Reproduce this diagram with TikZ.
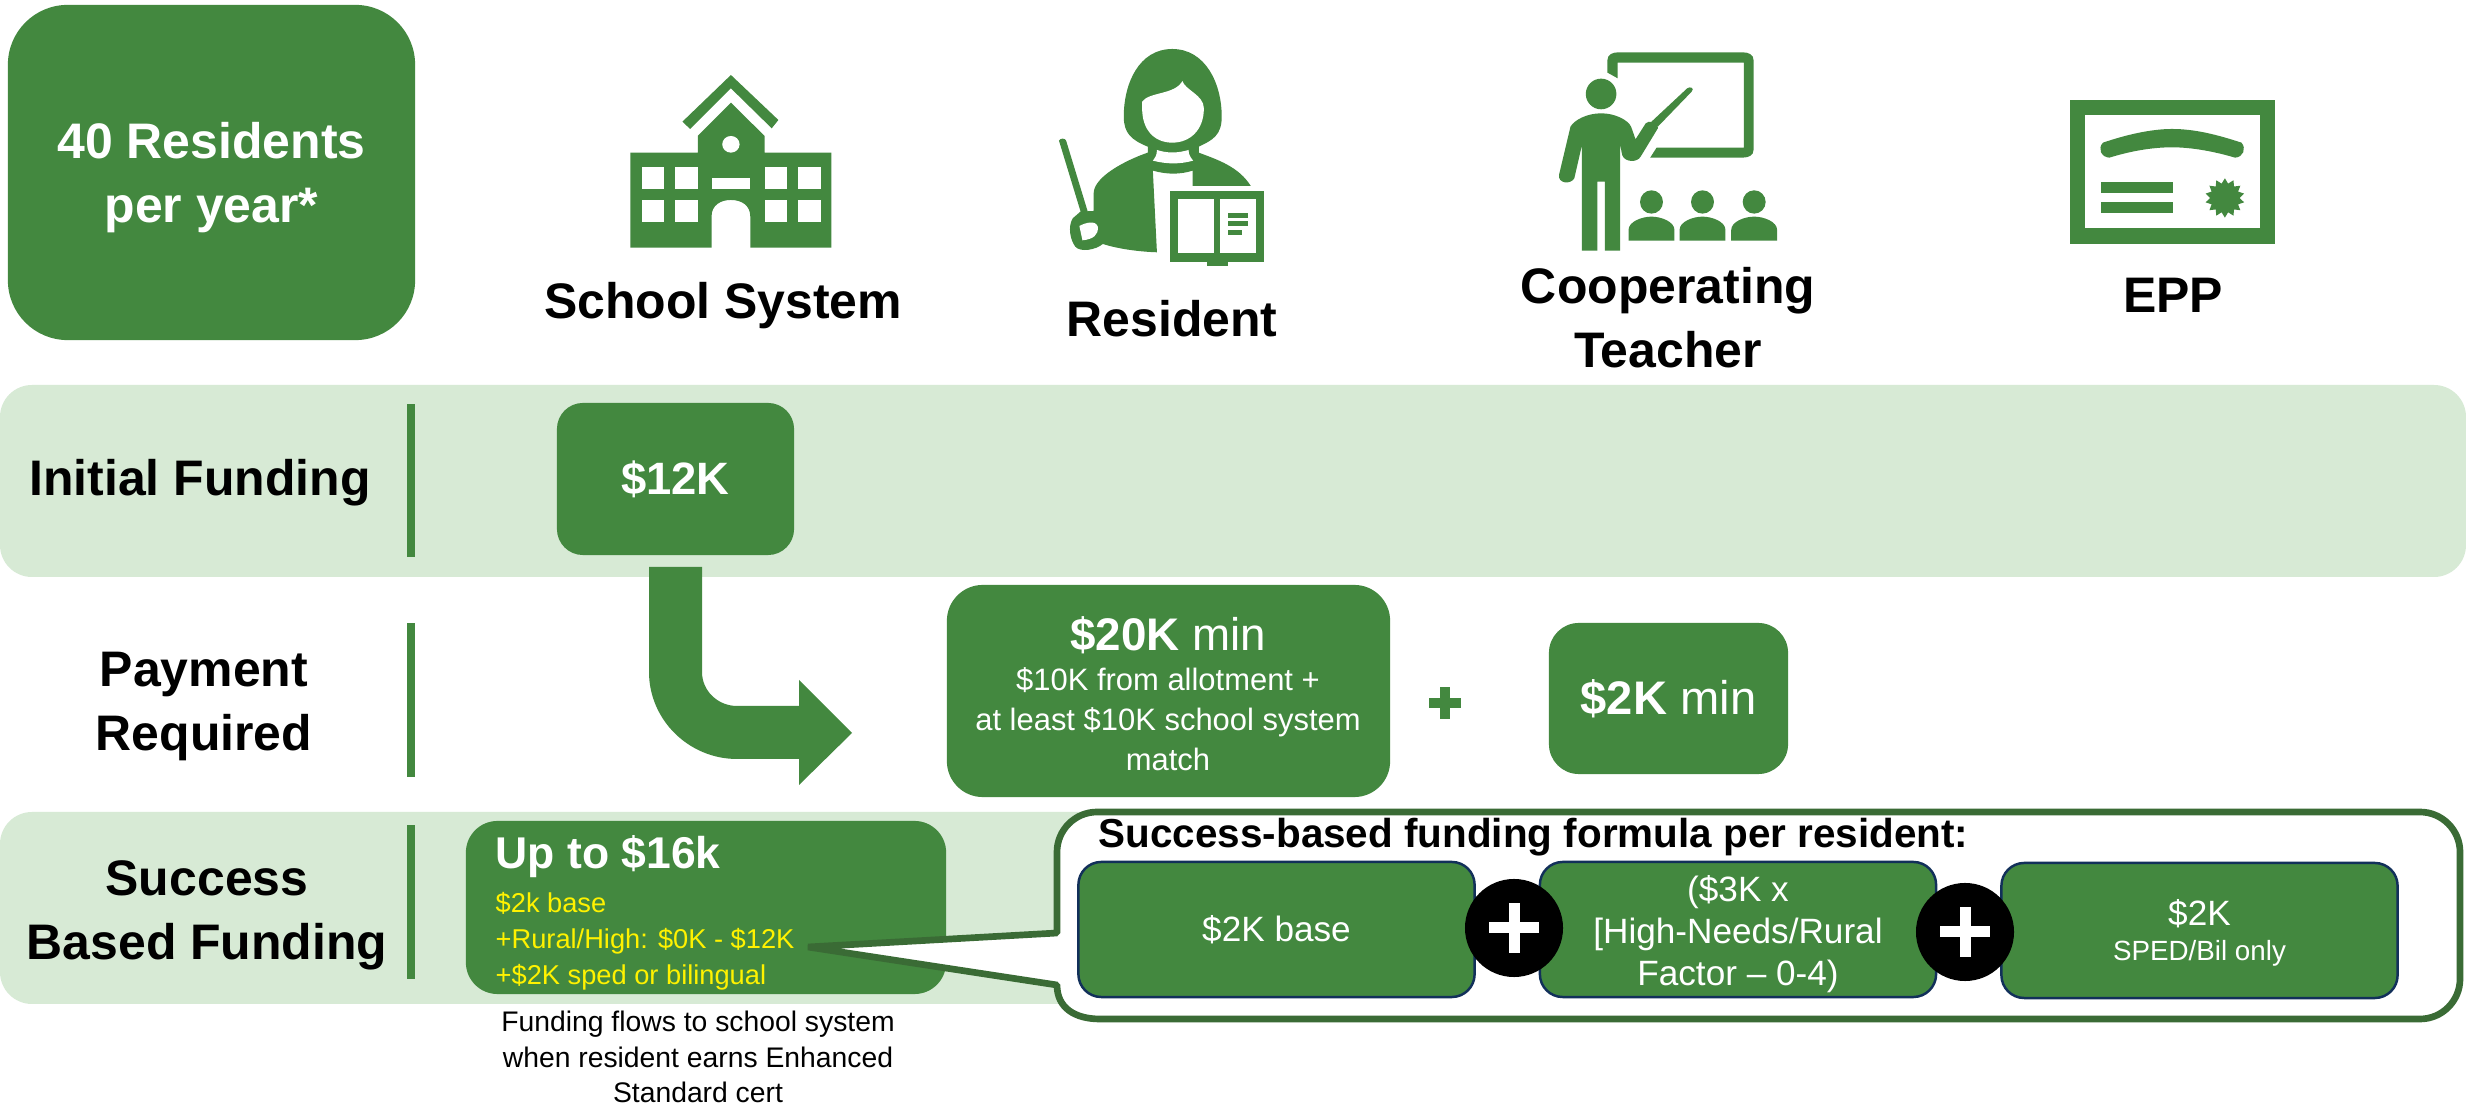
\documentclass[tikz,border=0pt]{standalone}
\usepackage{fontspec}
\setmainfont{Liberation Sans}
\definecolor{gr}{HTML}{43883F}
\definecolor{band}{HTML}{D7EAD5}
\definecolor{dk}{HTML}{3A6B35}
\definecolor{navy}{HTML}{12305A}
\newcommand{\fs}[2]{\fontsize{#1}{#2}\selectfont}
\tikzset{
 bandbox/.style={fill=band,draw=none,rounded corners=9.1pt},
 gbox/.style={fill=gr,draw=none,text=white,align=center,inner sep=0pt},
 nbox/.style={fill=gr,draw=navy,line width=0.7pt,rounded corners=6.5pt,inner sep=0pt,minimum width=3.96cm,minimum height=1.35cm},
 ttl/.style={font=\bfseries\fs{14.2}{18.2},align=center,text=black,inner sep=0pt},
 wt/.style={text=white,align=center,inner sep=0pt},
 bar/.style={fill=gr,draw=none},
 ic/.style={fill=gr,draw=none},
 wh/.style={fill=white,draw=none},
 plusdot/.style={circle,fill=black,draw=none,minimum size=0.98cm,inner sep=0pt},
}
\begin{document}
\begin{tikzpicture}[x=0.01cm,y=-0.01cm,line join=miter]
\useasboundingbox (0,0) rectangle (2466,1107);
\fill[white] (0,0) rectangle (2466,1107);
% bands
\fill[bandbox] (0,385) rectangle (2466,577);
\fill[bandbox] (0,812) rectangle (1200,1004);
% top-left box
\node[gbox,rounded corners=17pt,minimum width=4.07cm,minimum height=3.35cm] (forty) at (211.5,172.5) {};
\node[wt,font=\bfseries\fs{14.2}{18.2}] (fortyt) at (211.5,178) {40 Residents\\per year*};
% column titles
\node[ttl] (t1) at (723,306) {School System};
\node[ttl] (t2) at (1172,319) {Resident};
\node[ttl] (t3) at (1668,318) {Cooperating\\Teacher};
\node[ttl] (t4) at (2173,295) {EPP};
% School icon
\begin{scope}[shift={(560,20)},xscale=0.5102,yscale=0.3333]
\fill[ic] (335,165)--(428,300)--(415,325)--(335,205)--(255,327)--(240,305)--cycle;
\fill[ic] (138,398)--(270,398)--(270,348)--(335,248)--(401,348)--(401,398)--(532,398)--(532,683)--(373,683)--(373,590) .. controls (373,555) and (355,540) .. (335,540) .. controls (315,540) and (297,555) .. (297,590) --(297,683)--(138,683)--cycle;
\foreach \xa/\xb in {160/204,225/270,401/445,466/511}{
 \fill[wh] (\xa,440) rectangle (\xb,507);
 \fill[wh] (\xa,541) rectangle (\xb,607);}
\fill[wh] (297,473) rectangle (373,507);
\fill[wh] (335,373) ellipse [x radius=17,y radius=25];
\end{scope}
% Resident icon
\begin{scope}[shift={(560,20)},xscale=0.5102,yscale=0.3333]
\fill[ic] (1200,87) .. controls (1265,87) and (1297,190) .. (1297,290) .. controls (1297,345) and (1280,360) .. (1252,380) --(1252,398) .. controls (1290,420) and (1330,440) .. (1354,498) --(1240,498)--(1240,452) .. controls (1215,464) and (1190,464) .. (1162,452) --(1170,697) .. controls (1130,695) and (1090,685) .. (1064,672) .. controls (1050,690) and (1020,698) .. (1010,680) .. controls (1000,660) and (995,620) .. (1005,595) --(1020,575)--(1046,573)--(1046,520) .. controls (1046,470) and (1110,420) .. (1152,398) --(1152,380) .. controls (1120,360) and (1105,340) .. (1105,290) .. controls (1105,190) and (1135,87) .. (1200,87)--cycle;
\fill[wh] (1141,245) .. controls (1155,215) and (1205,225) .. (1220,183) .. controls (1225,210) and (1262,225) .. (1262,265) .. controls (1262,330) and (1235,368) .. (1200,368) .. controls (1165,368) and (1141,330) .. (1141,265)--cycle;
\fill[wh] (1170,390) .. controls (1190,400) and (1210,400) .. (1232,390) .. controls (1232,405) and (1236,412) .. (1241,422) .. controls (1215,433) and (1190,433) .. (1162,422) .. controls (1167,412) and (1170,405) .. (1170,390)--cycle;
\fill[ic] (978,362) .. controls (980,354) and (990,354) .. (992,362)--(1035,578)--(1021,578)--cycle;
\fill[wh] (1018,618) .. controls (1030,608) and (1050,600) .. (1054,620) .. controls (1056,645) and (1045,658) .. (1024,661)--cycle;
\fill[ic] (1268,725) rectangle (1309,737);
\fill[wh] (1190,506) rectangle (1386,514);
\fill[ic] (1196,514) rectangle (1380,725);
\fill[wh] (1212,538) rectangle (1282,700);
\fill[wh] (1294,538) rectangle (1364,700);
\fill[ic] (1309,579) rectangle (1348,594);
\fill[ic] (1309,603) rectangle (1348,618);
\fill[ic] (1309,630) rectangle (1337,645);
\end{scope}
% Teacher icon
\begin{scope}[shift={(1360,20)},xscale=0.6378,yscale=0.3333]
\fill[ic] (388,158)--(388,120) .. controls (388,105) and (395,97) .. (405,97)--(600,97) .. controls (610,97) and (617,105) .. (617,120)--(617,390) .. controls (617,405) and (610,413) .. (600,413)--(455,413)--(465,383)--(602,383)--(602,128)--(404,128)--(404,175)--cycle;
\fill[ic] (378,222) ellipse [x radius=24,y radius=46];
\fill[ic] (378,280) .. controls (400,280) and (420,300) .. (425,320)--(432,358)--(448,310) .. controls (452,300) and (468,305) .. (467,325)--(440,410) .. controls (435,428) and (415,428) .. (411,405)--(408,375)--(408,692)--(384,692)--(384,485)--(372,485)--(372,692)--(348,692)--(348,375)--(336,475) .. controls (330,495) and (310,490) .. (312,465)--(330,320) .. controls (336,300) and (356,280) .. (378,280)--cycle;
\fill[ic] (457,305)--(513,205) .. controls (518,198) and (525,205) .. (520,215)--(467,320)--cycle;
\foreach \cx in {457,537,618}{
 \fill[ic] (\cx,546) ellipse [x radius=18,y radius=35];
 \fill[ic] (\cx-36,662)--(\cx-36,630) .. controls (\cx-36,605) and (\cx-15,590) .. (\cx,590) .. controls (\cx+15,590) and (\cx+36,605) .. (\cx+36,630)--(\cx+36,662)--cycle;}
\end{scope}
% EPP icon
\begin{scope}[shift={(1360,20)},xscale=0.6378,yscale=0.3333]
\fill[ic] (1113,240) rectangle (1435,672);
\fill[wh] (1137,286) rectangle (1411,625);
\fill[ic] (1165,368) .. controls (1200,345) and (1240,327) .. (1273,327) .. controls (1310,327) and (1345,345) .. (1382,368) .. controls (1390,385) and (1385,412) .. (1372,413) .. controls (1340,395) and (1305,382) .. (1273,382) .. controls (1240,382) and (1205,395) .. (1175,413) .. controls (1162,412) and (1156,385) .. (1165,368)--cycle;
\fill[ic] (1162,486) rectangle (1275,519);
\fill[ic] (1162,546) rectangle (1275,579);
\fill[ic] plot[samples=29,domain=0:360,variable=\a] ({1356+(mod(round(\a/12.857),2)==0?31:23)*sin(\a)},{534+(mod(round(\a/12.857),2)==0?59:44)*cos(\a)})--cycle;
\end{scope}
% row labels and bars
\node[ttl] (r1) at (200,483) {Initial Funding};
\node[ttl] (r2) at (204,707) {Payment\\Required};
\node[ttl] (r3) at (207,915) {Success\\Based Funding};
\fill[bar] (407,404) rectangle (415,557);
\fill[bar] (407,623) rectangle (415,777);
\fill[bar] (407,825) rectangle (415,979);
% boxes
\node[gbox,rounded corners=7.4pt,minimum width=2.37cm,minimum height=1.52cm,font=\bfseries\fs{12.9}{15}] (k12) at (675.5,479) {\$12K};
\fill[gr] (649,567)--(702,567)--(702,672) .. controls (702,691) and (718,706) .. (737,706)--(799,706)--(799,680)--(852,733)--(799,785)--(799,759)--(737,759) .. controls (689,759) and (649,720) .. (649,672)--cycle;
\node[gbox,rounded corners=10.2pt,minimum width=4.43cm,minimum height=2.12cm] (k20) at (1168.5,691) {};
\node[wt,font=\fs{13}{15}] (k20a) at (1168,635) {\textbf{\$20K} min};
\node[wt,font=\fs{8.8}{11.3}] (k20b) at (1168,719) {\$10K from allotment +\\at least \$10K school system\\match};
\fill[gr] (1429,698) rectangle (1461,708);
\fill[gr] (1440,687) rectangle (1450,719);
\node[gbox,rounded corners=8.5pt,minimum width=2.39cm,minimum height=1.51cm,font=\fs{13.4}{16}] (k2) at (1668.5,698.5) {\textbf{\$2K} min};
% success box
\node[gbox,rounded corners=9pt,minimum width=4.8cm,minimum height=1.73cm] (k16) at (706,907.5) {};
\node[anchor=west,wt,font=\bfseries\fs{12.65}{15}] (k16a) at (495,857) {Up to \$16k};
\node[anchor=west,align=left,text=yellow,inner sep=0pt,font=\fs{7.75}{10.2}] (k16b) at (495,941) {\$2k base\\+Rural/High: \$0K - \$12K\\+\$2K sped or bilingual};
\node[align=center,inner sep=0pt,font=\fs{8.05}{10}] (note) at (698,1057) {Funding flows to school system\\when resident earns Enhanced\\Standard cert};
% callout
\draw[dk,fill=white,line width=1.9pt,line join=bevel] (1057,933)--(1057,852) .. controls (1057,830) and (1075,812) .. (1097,812) -- (2420,812) .. controls (2442,812) and (2460,830) .. (2460,852) -- (2460,979) .. controls (2460,1001) and (2442,1019) .. (2420,1019) -- (1100,1019) .. controls (1075,1019) and (1057,1008) .. (1057,985) -- (808,947) -- cycle;
\node[anchor=west,inner sep=0pt,font=\bfseries\fs{11.5}{13}] (ftitle) at (1098,837) {Success-based funding formula per resident:};
\node[nbox] (f1) at (1276.5,929.5) {};
\node[nbox] (f2) at (1738,929.5) {};
\node[nbox] (f3) at (2199.5,930.5) {};
\node[wt,font=\fs{10}{12}] (f1t) at (1276.5,930) {\$2K base};
\node[wt,font=\fs{10}{12}] (f2t) at (1738,934) {(\$3K x\\{[}High-Needs/Rural\\Factor – 0-4)};
\node[wt,font=\fs{10}{12}] (f3a) at (2199.5,914) {\$2K};
\node[wt,font=\fs{7.9}{10}] (f3b) at (2199.5,953) {SPED/Bil only};
\node[plusdot] (p1) at (1514,928) {};
\node[plusdot] (p2) at (1965,932) {};
\foreach \p in {p1,p2}{
 \fill[white] ([xshift=-0.25cm,yshift=-0.055cm]\p.center) rectangle ([xshift=0.25cm,yshift=0.055cm]\p.center);
 \fill[white] ([xshift=-0.055cm,yshift=-0.25cm]\p.center) rectangle ([xshift=0.055cm,yshift=0.25cm]\p.center);}
\end{tikzpicture}
\end{document}
